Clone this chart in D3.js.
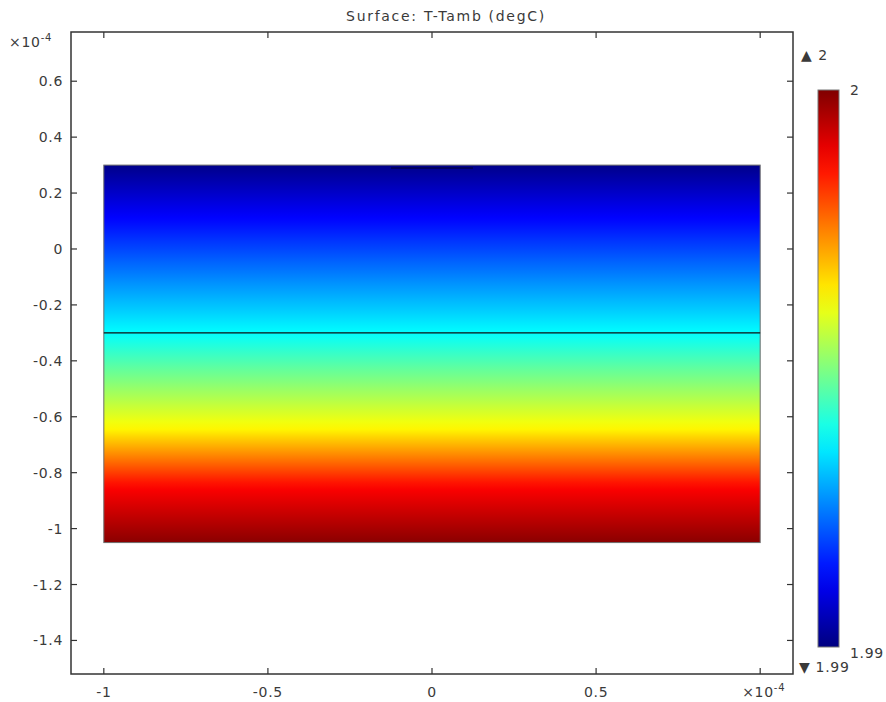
<!DOCTYPE html>
<html>
<head>
<meta charset="utf-8">
<script src="https://cdn.jsdelivr.net/npm/d3@7"></script>
<style>
  body { margin: 0; background: #fff; }
  text { font-family: "DejaVu Sans", sans-serif; fill: #3a3a3a; }
</style>
</head>
<body>
<div id="chart"></div>
<script>
// temperature profile (y in 1e-4 m, T-Tamb in degC)
var yLevels = [-1.05, -0.852, -0.637, -0.30, 0.114, 0.30];
var tempLevels = [1.99990, 1.99875, 1.99625, 1.99375, 1.99125, 1.99010];
var colorRange = [1.99, 2.00];

// geometry of the domains
var blockX = [-1, 1];
var blockY = [-1.05, 0.30];
var interfaceY = -0.30;
var heaterX = [-0.125, 0.125];
var heaterY = 0.29;

var xTicks = [-1, -0.5, 0, 0.5];
var xTickLabels = ["-1", "-0.5", "0", "0.5"];
var yTicks = [0.6, 0.4, 0.2, 0, -0.2, -0.4, -0.6, -0.8, -1, -1.2, -1.4];
var yTickLabels = ["0.6", "0.4", "0.2", "0", "-0.2", "-0.4", "-0.6", "-0.8", "-1", "-1.2", "-1.4"];

var W = 886, H = 702;
var svg = d3.select("#chart").append("svg").attr("width", W).attr("height", H);

var x = d3.scaleLinear().domain([-1.1, 1.1]).range([71, 793]);
var y = d3.scaleLinear().domain([-1.52, 0.776]).range([674, 32]);

// jet colormap
function jet(t) {
  t = Math.max(0, Math.min(1, t));
  var c = function (v) { return Math.round(255 * Math.max(0, Math.min(1, 1.5 - Math.abs(v)))); };
  return d3.rgb(c(4 * t - 3), c(4 * t - 2), c(4 * t - 1)).toString();
}
var norm = d3.scaleLinear().domain(colorRange).range([0, 1]);
var tempAt = d3.scaleLinear().domain(yLevels).range(tempLevels);

var defs = svg.append("defs");

// surface gradient along y
var surfGrad = defs.append("linearGradient")
  .attr("id", "surfGrad")
  .attr("gradientUnits", "userSpaceOnUse")
  .attr("x1", 0).attr("x2", 0)
  .attr("y1", y(blockY[1])).attr("y2", y(blockY[0]));
d3.range(0, 1.0001, 0.02).forEach(function (f) {
  var yy = blockY[1] + (blockY[0] - blockY[1]) * f;
  surfGrad.append("stop")
    .attr("offset", f)
    .attr("stop-color", jet(norm(tempAt(yy))));
});

// colorbar gradient
var cbGrad = defs.append("linearGradient")
  .attr("id", "cbGrad")
  .attr("x1", 0).attr("x2", 0).attr("y1", 1).attr("y2", 0);
d3.range(0, 1.0001, 0.05).forEach(function (f) {
  cbGrad.append("stop").attr("offset", f).attr("stop-color", jet(f));
});

// surface
svg.append("rect")
  .attr("x", x(blockX[0]))
  .attr("y", y(blockY[1]))
  .attr("width", x(blockX[1]) - x(blockX[0]))
  .attr("height", y(blockY[0]) - y(blockY[1]))
  .attr("fill", "url(#surfGrad)")
  .attr("stroke", "#6d6d6d")
  .attr("stroke-width", 1);

svg.append("line")
  .attr("x1", x(blockX[0])).attr("x2", x(blockX[1]))
  .attr("y1", y(interfaceY)).attr("y2", y(interfaceY))
  .attr("stroke", "#111").attr("stroke-width", 1.2);

svg.append("line")
  .attr("x1", x(heaterX[0])).attr("x2", x(heaterX[1]))
  .attr("y1", y(heaterY)).attr("y2", y(heaterY))
  .attr("stroke", "#000022").attr("stroke-opacity", 0.6).attr("stroke-width", 1.5);

// frame with inward ticks
var frame = svg.append("g");
var x0 = x.range()[0], x1 = x.range()[1], y0 = y.range()[1], y1 = y.range()[0];
frame.append("rect")
  .attr("x", x0).attr("y", y0)
  .attr("width", x1 - x0).attr("height", y1 - y0)
  .attr("fill", "none").attr("stroke", "#333").attr("stroke-width", 1.5);

var tl = 6;
var xAll = xTicks.concat([1]);
xAll.forEach(function (v) {
  frame.append("line").attr("x1", x(v)).attr("x2", x(v)).attr("y1", y1).attr("y2", y1 - tl)
    .attr("stroke", "#333").attr("stroke-width", 1.2);
  frame.append("line").attr("x1", x(v)).attr("x2", x(v)).attr("y1", y0).attr("y2", y0 + tl)
    .attr("stroke", "#333").attr("stroke-width", 1.2);
});
yTicks.forEach(function (v) {
  frame.append("line").attr("x1", x0).attr("x2", x0 + tl).attr("y1", y(v)).attr("y2", y(v))
    .attr("stroke", "#333").attr("stroke-width", 1.2);
  frame.append("line").attr("x1", x1).attr("x2", x1 - tl).attr("y1", y(v)).attr("y2", y(v))
    .attr("stroke", "#333").attr("stroke-width", 1.2);
});

var fs = 14, ls = 0.7;

// tick labels
svg.selectAll(".xl").data(xTicks).enter().append("text")
  .attr("x", function (d) { return x(d); })
  .attr("y", 697)
  .attr("text-anchor", "middle")
  .attr("font-size", fs).attr("letter-spacing", ls)
  .text(function (d, i) { return xTickLabels[i]; });

svg.selectAll(".yl").data(yTicks).enter().append("text")
  .attr("x", 63)
  .attr("y", function (d) { return y(d) + 5; })
  .attr("text-anchor", "end")
  .attr("font-size", fs).attr("letter-spacing", ls)
  .text(function (d, i) { return yTickLabels[i]; });

function expLabel(px, py) {
  var t = svg.append("text").attr("x", px).attr("y", py).attr("font-size", fs).attr("letter-spacing", ls);
  t.append("tspan").text("\u00d710");
  t.append("tspan").attr("font-size", 10).attr("dy", -6).text("-4");
}
expLabel(x(1) - 18, 697);
expLabel(9, 47);

// title
svg.append("text")
  .attr("x", 446).attr("y", 21)
  .attr("text-anchor", "middle")
  .attr("font-size", 14).attr("letter-spacing", 1.7)
  .text("Surface: T-Tamb (degC)");

// colorbar
var cb = d3.scaleLinear().domain(colorRange).range([647, 90]);
svg.append("rect")
  .attr("x", 818).attr("y", cb(colorRange[1]))
  .attr("width", 21).attr("height", cb(colorRange[0]) - cb(colorRange[1]))
  .attr("fill", "url(#cbGrad)")
  .attr("stroke", "#777").attr("stroke-width", 1);

svg.append("text").attr("x", 850).attr("y", cb(colorRange[1]) + 5).attr("font-size", fs).text("2");
svg.append("text").attr("x", 850).attr("y", cb(colorRange[0]) + 11).attr("font-size", fs).attr("letter-spacing", ls).text("1.99");
svg.append("text").attr("x", 801).attr("y", 60).attr("font-size", fs).attr("letter-spacing", 1).text("\u25b2 2");
svg.append("text").attr("x", 799).attr("y", 672).attr("font-size", fs).attr("letter-spacing", ls).text("\u25bc 1.99");
</script>
</body>
</html>
